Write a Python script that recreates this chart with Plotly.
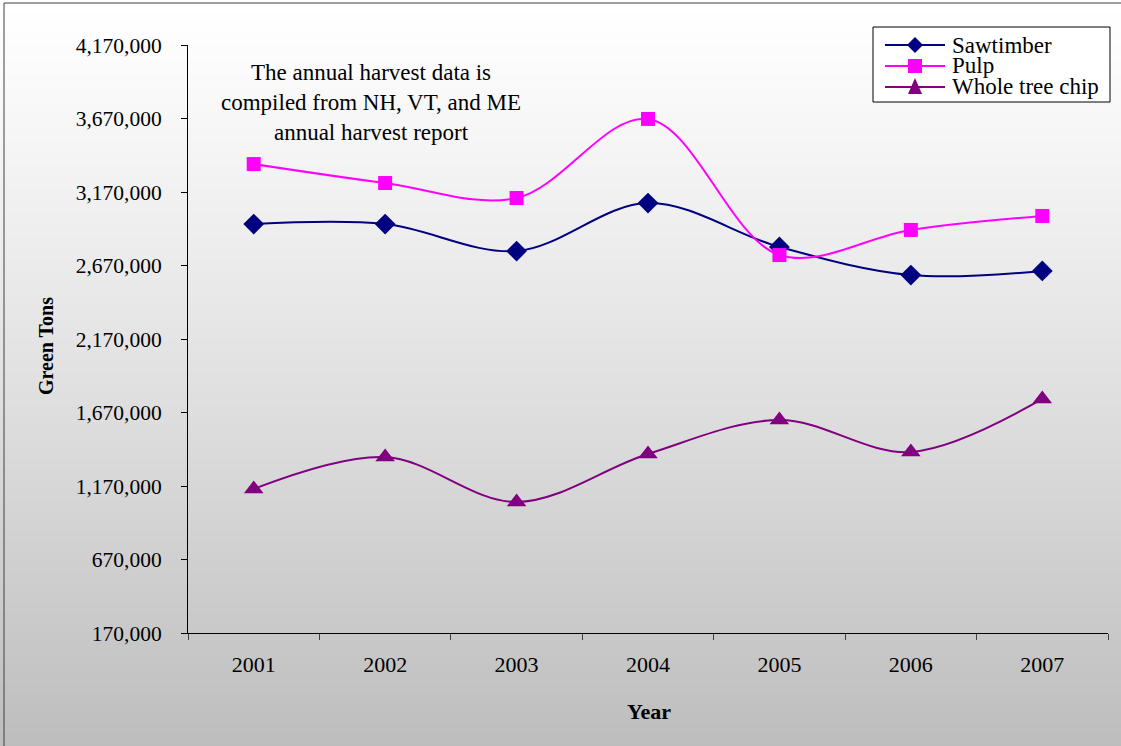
import plotly.graph_objects as go

# Annual harvest (green tons) by product
years = ["2001", "2002", "2003", "2004", "2005", "2006", "2007"]
sawtimber = [2952000, 2952000, 2768000, 3095000, 2796000, 2605000, 2633000]
pulp = [3360000, 3231000, 3129000, 3667000, 2741000, 2912000, 3007000]
whole_tree_chip = [1150000, 1367000, 1061000, 1388000, 1619000, 1401000, 1762000]

y_ticks = [170000, 670000, 1170000, 1670000, 2170000, 2670000, 3170000, 3670000, 4170000]

series = [
    ("Sawtimber", sawtimber, "#000080", "diamond", 16),
    ("Pulp", pulp, "#FF00FF", "square", 14),
    ("Whole tree chip", whole_tree_chip, "#800080", "triangle-up", 17),
]

W, H = 1121, 746
ML, MR, MT, MB = 188, 13, 45, 113
PW, PH = W - ML - MR, H - MT - MB

FONT = "Liberation Serif, Times New Roman, serif"


def py(p):
    """pixel row -> paper y"""
    return (H - MB - p) / PH


def px(p):
    """pixel column -> paper x"""
    return (p - ML) / PW


fig = go.Figure()
for name, vals, color, symbol, size in series:
    fig.add_trace(go.Scatter(
        x=years, y=vals, name=name, mode="lines+markers",
        line=dict(color=color, width=2, shape="spline", smoothing=1),
        marker=dict(symbol=symbol, size=size, color=color),
        showlegend=False,
    ))

shapes = []
# vertical white-to-grey background wash over the whole figure
step = 3
for p in range(0, H + step, step):
    t = p / H
    c = int(round(255 - 66 * (t ** 1.15)))
    shapes.append(dict(
        type="rect", xref="paper", yref="paper", layer="below",
        x0=px(-2), x1=px(W + 2), y0=py(p + step + 0.5), y1=py(p),
        fillcolor=f"rgb({c},{c},{c})", line=dict(width=0),
    ))
# outer frame (top and left edges)
for x0, y0, x1, y1 in [(4, 3, W + 2, 3), (4, 3, 4, H + 2)]:
    shapes.append(dict(type="line", xref="paper", yref="paper", layer="above",
                       x0=px(x0), y0=py(y0), x1=px(x1), y1=py(y1),
                       line=dict(color="#404040", width=1)))

# legend box drawn by hand for compact rows
LX0, LX1, LY0, LY1 = 873, 1110, 27, 102
shapes.append(dict(type="rect", xref="paper", yref="paper", layer="above",
                   x0=px(LX0), x1=px(LX1), y0=py(LY1), y1=py(LY0),
                   fillcolor="white", line=dict(color="black", width=1)))
annotations = []
row_y = [45, 66, 87]
for (name, _, color, symbol, _), ry in zip(series, row_y):
    shapes.append(dict(type="line", xref="paper", yref="paper", layer="above",
                       x0=px(885), x1=px(945), y0=py(ry), y1=py(ry),
                       line=dict(color=color, width=2)))
    cx = 915
    if symbol == "diamond":
        pts = [(cx, ry - 8), (cx + 8, ry), (cx, ry + 8), (cx - 8, ry)]
    elif symbol == "square":
        pts = [(cx - 7, ry - 7), (cx + 7, ry - 7), (cx + 7, ry + 7), (cx - 7, ry + 7)]
    else:
        pts = [(cx, ry - 9), (cx + 7, ry + 7), (cx - 7, ry + 7)]
    path = "M " + " L ".join(f"{px(a)},{py(b)}" for a, b in pts) + " Z"
    shapes.append(dict(type="path", xref="paper", yref="paper", layer="above",
                       path=path, fillcolor=color, line=dict(color=color, width=0)))
    annotations.append(dict(text=name, xref="paper", yref="paper",
                            x=px(950), y=py(ry), xanchor="left", yanchor="middle",
                            showarrow=False, font=dict(family=FONT, size=23)))

annotations += [
    dict(text="The annual harvest data is<br>compiled from NH, VT, and ME<br>annual harvest report",
         xref="paper", yref="paper", x=px(371), y=py(58),
         xanchor="center", yanchor="top", showarrow=False, align="center",
         font=dict(family=FONT, size=23)),
    dict(text="<b>Year</b>", xref="paper", yref="paper",
         x=px(649), y=py(711), xanchor="center", yanchor="middle", showarrow=False,
         font=dict(family=FONT, size=22)),
    dict(text="<b>Green Tons</b>", xref="paper", yref="paper",
         x=px(46), y=py(346), textangle=-90, xanchor="center", yanchor="middle",
         showarrow=False, font=dict(family=FONT, size=20)),
]

fig.update_layout(
    width=W, height=H,
    margin=dict(l=ML, r=MR, t=MT, b=MB, autoexpand=False),
    paper_bgcolor="rgba(0,0,0,0)", plot_bgcolor="rgba(0,0,0,0)",
    font=dict(family=FONT, size=22, color="black"),
    shapes=shapes, annotations=annotations, showlegend=False,
    xaxis=dict(
        type="category", range=[-0.5, 6.5], showgrid=False, zeroline=False,
        showline=True, linecolor="black", linewidth=1,
        ticks="outside", tickson="boundaries", ticklen=6, tickcolor="#404040",
        tickfont=dict(family=FONT, size=22), ticklabelstandoff=12,
    ),
    yaxis=dict(
        range=[170000, 4170000], tickvals=y_ticks,
        ticktext=[f"{v:,}" for v in y_ticks],
        showgrid=False, zeroline=False,
        showline=True, linecolor="black", linewidth=1,
        ticks="outside", ticklen=6, tickcolor="black",
        tickfont=dict(family=FONT, size=21.5), ticklabelstandoff=15,
    ),
)

fig.write_html("out.html")
